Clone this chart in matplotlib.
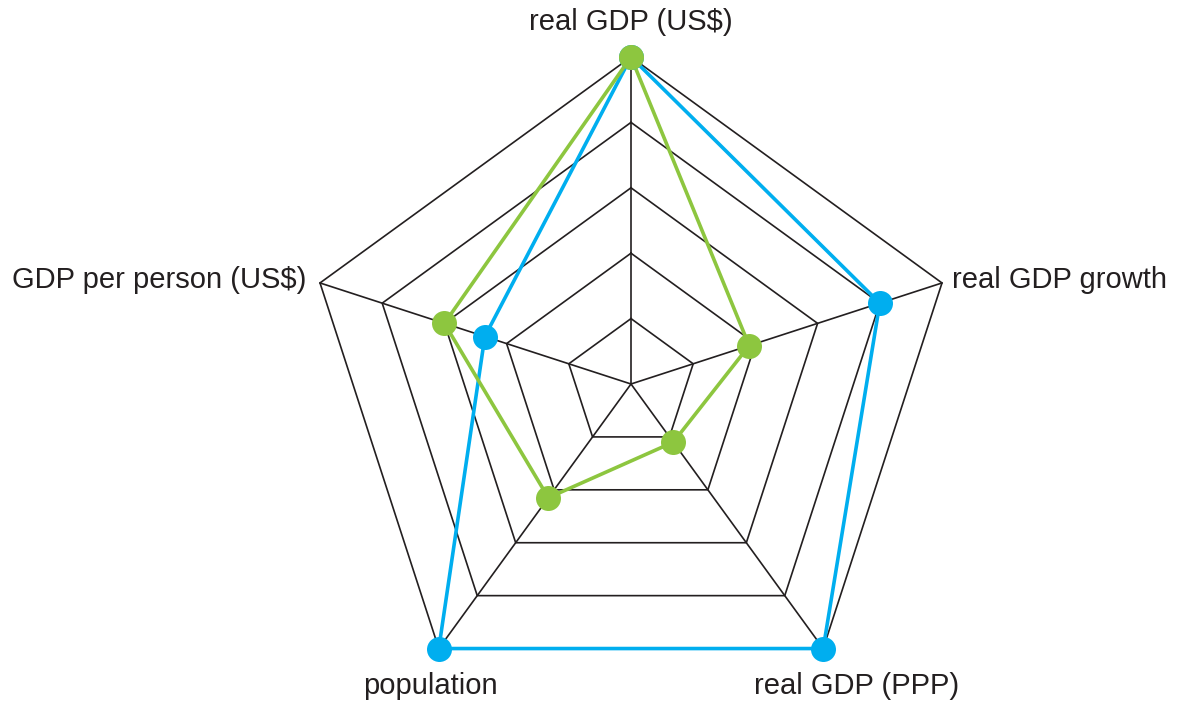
import numpy as np
import matplotlib.pyplot as plt

plt.rcParams['font.family'] = ['Liberation Sans', 'DejaVu Sans']

categories = ['real GDP (US$)', 'real GDP growth', 'real GDP (PPP)',
              'population', 'GDP per person (US$)']
green_vals = [5, 1.9, 1.1, 2.15, 3.0]
blue_vals = [5, 4.0, 5, 5, 2.35]
levels = [1, 2, 3, 4, 5]

GREEN = '#8dc63f'
BLUE = '#00aeef'

W, H = 1177, 702
cx, cy, R = 631, 384, 327  # centre and outer radius in pixels

fig = plt.figure(figsize=(W / 100, H / 100), dpi=100)
ax = fig.add_axes([0, 0, 1, 1])
ax.set_xlim(-cx / R, (W - cx) / R)
ax.set_ylim(-(H - cy) / R, cy / R)
ax.axis('off')

n = len(categories)
ang = np.deg2rad(90 - 72 * np.arange(n))
vmax = max(levels)


def xy(vals):
    r = np.asarray(vals, dtype=float) / vmax
    x = r * np.cos(ang)
    y = r * np.sin(ang)
    return np.append(x, x[0]), np.append(y, y[0])


# grid rings and spokes
for lv in levels:
    gx, gy = xy([lv] * n)
    ax.plot(gx, gy, color='#231f20', lw=1.2, zorder=1)
for a in ang:
    ax.plot([0, np.cos(a)], [0, np.sin(a)], color='#231f20', lw=1.2, zorder=1)

# series
for vals, col, z in [(blue_vals, BLUE, 3), (green_vals, GREEN, 4)]:
    sx, sy = xy(vals)
    ax.plot(sx, sy, color=col, lw=2.6, zorder=z)
    ax.plot(sx[:-1], sy[:-1], 'o', color=col, ms=18, mec='none', zorder=z + 2)

# axis labels
fs = 21
ax.text(0, 1.107, categories[0], ha='center', va='center', fontsize=fs, color='#231f20')
ax.text(0.982, 0.318, categories[1], ha='left', va='center', fontsize=fs, color='#231f20')
ax.text(0.691, -0.924, categories[2], ha='center', va='center', fontsize=fs, color='#231f20')
ax.text(-0.615, -0.924, categories[3], ha='center', va='center', fontsize=fs, color='#231f20')
ax.text(-0.994, 0.318, categories[4], ha='right', va='center', fontsize=fs, color='#231f20')

fig.savefig('out.png', dpi=100)
